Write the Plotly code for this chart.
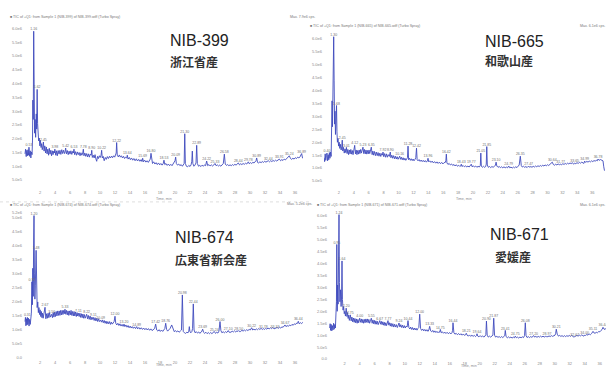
import plotly.graph_objects as go

W, H = 606, 369

# ---------------- NIB-399 (浙江省産) ----------------
nib399_trace = [
    [0.00,1.45],[0.08,1.62],[0.16,1.35],[0.24,1.58],[0.32,1.38],[0.40,1.60],[0.46,1.40],[0.62,1.36],[0.70,1.56],
    [0.78,1.30],[0.86,1.52],[0.94,1.42],[1.00,1.95],[1.05,3.40],[1.10,2.70],[1.22,4.10],[1.28,2.20],[1.35,2.70],
    [1.42,2.05],[1.50,2.90],[1.56,2.35],[1.68,2.55],[1.75,2.10],[1.82,1.92],[1.90,2.02],[1.98,1.74],[2.06,1.94],
    [2.14,1.68],[2.22,1.82],[2.30,1.60],[2.38,1.70],[2.54,1.55],[2.64,1.74],[2.74,1.48],[2.84,1.70],[2.94,1.45],
    [3.04,1.62],[3.14,1.40],[3.24,1.65],[3.34,1.44],[3.44,1.58],[3.54,1.38],[3.64,1.56],[3.74,1.42],[3.84,1.55],
    [3.92,1.48],[4.10,1.40],[4.20,1.56],[4.30,1.38],[4.42,1.57],[4.54,1.44],[4.66,1.58],[4.78,1.43],[4.90,1.60],
    [5.02,1.46],[5.14,1.58],[5.26,1.46],[5.34,1.52],[5.52,1.45],[5.64,1.57],[5.76,1.42],[5.88,1.55],[6.00,1.44],
    [6.12,1.56],[6.24,1.43],[6.36,1.54],[6.45,1.48],[6.62,1.42],[6.74,1.53],[6.86,1.40],[6.98,1.52],[7.10,1.42],
    [7.22,1.50],[7.34,1.38],[7.46,1.49],[7.58,1.40],[7.70,1.48],[7.86,1.38],[7.98,1.48],[8.10,1.36],[8.22,1.46],
    [8.34,1.34],[8.46,1.45],[8.58,1.33],[8.70,1.44],[8.82,1.40],[8.98,1.32],[9.10,1.40],[9.22,1.30],[9.34,1.42],
    [9.46,1.26],[9.56,1.18],[9.68,1.36],[9.80,1.28],[9.92,1.38],[10.04,1.32],[10.14,1.40],[10.30,1.30],[10.42,1.36],
    [10.56,1.20],[10.70,1.32],[10.84,1.25],[10.98,1.35],[11.12,1.28],[11.26,1.36],[11.40,1.30],[11.54,1.37],
    [11.68,1.31],[11.82,1.38],[11.96,1.33],[12.08,1.42],[12.16,1.48],[12.30,1.40],[12.44,1.34],[12.58,1.41],
    [12.72,1.33],[12.86,1.38],[13.00,1.30],[13.14,1.36],[13.28,1.28],[13.42,1.33],[13.56,1.30],[13.74,1.26],
    [13.90,1.32],[14.05,1.24],[14.20,1.30],[14.36,1.22],[14.52,1.28],[14.68,1.20],[14.84,1.27],[15.00,1.19],
    [15.16,1.25],[15.32,1.18],[15.48,1.24],[15.60,1.17],[15.80,1.16],[15.96,1.22],[16.12,1.15],[16.28,1.20],
    [16.44,1.14],[16.58,1.19],[16.70,1.26],[16.88,1.20],[17.00,1.10],[17.16,1.16],[17.32,1.08],[17.48,1.13],
    [17.64,1.06],[17.80,1.12],[17.96,1.05],[18.12,1.10],[18.28,1.04],[18.42,1.09],[18.64,1.06],[18.80,1.10],
    [18.96,1.03],[19.12,1.08],[19.28,1.02],[19.44,1.07],[19.60,1.02],[19.74,1.08],[19.88,1.14],[20.00,1.20],
    [20.18,1.10],[20.34,1.04],[20.50,1.08],[20.66,1.02],[20.82,1.06],[20.98,1.00],[21.12,1.05],[21.22,1.10],
    [21.38,1.10],[21.52,1.00],[21.68,0.98],[21.84,1.03],[22.00,0.99],[22.14,1.05],[22.24,1.18],[22.31,1.55],
    [22.38,1.10],[22.52,1.00],[22.66,1.04],[22.80,1.12],[22.98,1.10],[23.14,1.00],[23.30,1.03],[23.46,0.99],
    [23.62,1.04],[23.78,1.00],[23.94,1.05],[24.08,1.02],[24.36,1.02],[24.52,1.06],[24.68,1.01],[24.84,1.05],
    [25.00,1.01],[25.16,1.04],[25.48,1.02],[25.64,1.05],[25.80,1.01],[25.96,1.04],[26.12,1.00],[26.28,1.05],
    [26.44,1.10],[26.70,1.08],[26.86,1.03],[27.02,1.06],[27.18,1.02],[27.34,1.05],[27.50,1.02],[27.66,1.06],
    [27.82,1.03],[27.98,1.07],[28.14,1.04],[28.28,1.08],[28.60,1.05],[28.76,1.09],[28.92,1.06],[29.08,1.10],
    [29.24,1.07],[29.40,1.11],[29.56,1.08],[29.68,1.12],[29.90,1.09],[30.06,1.13],[30.22,1.10],[30.38,1.14],
    [30.54,1.12],[30.68,1.16],[30.80,1.20],[31.00,1.14],[31.16,1.12],[31.32,1.16],[31.48,1.13],[31.64,1.17],
    [31.80,1.14],[31.96,1.18],[32.12,1.15],[32.28,1.19],[32.60,1.16],[32.76,1.20],[32.92,1.17],[33.08,1.21],
    [33.24,1.18],[33.40,1.22],[33.56,1.19],[33.72,1.23],[34.08,1.20],[34.24,1.24],[34.40,1.21],[34.56,1.26],
    [34.72,1.23],[34.88,1.28],[35.04,1.30],[35.40,1.28],[35.56,1.25],[35.72,1.29],[35.88,1.26],[36.04,1.31],
    [36.20,1.28],[36.36,1.33],[36.52,1.30],[36.66,1.34],[36.78,1.40],[37.00,1.30],[37.20,1.32],
]
nib399_rt = [0.53, 1.16, 1.62, 2.45, 3.98, 5.42, 6.53, 7.78, 8.90, 10.22, 12.22, 13.64, 15.69, 16.80,
             18.53, 20.09, 21.30, 22.89, 24.22, 25.33, 26.58, 28.44, 29.78, 30.89, 32.44, 33.91, 35.24, 36.89]
nib399_height = [1.69, 5.90, 3.79, 1.88, 1.62, 1.66, 1.62, 1.62, 1.58, 1.58, 1.86, 1.40, 1.29, 1.47,
                 1.22, 1.33, 2.18, 1.76, 1.19, 1.10, 1.44, 1.12, 1.16, 1.30, 1.20, 1.26, 1.38, 1.46]
nib399_yticks = [0.5, 1.0, 1.5, 2.0, 2.5, 3.0, 3.5, 4.0, 4.5, 5.0, 5.5, 6.0]

# ---------------- NIB-665 (和歌山産) ----------------
nib665_trace = [
    [0.00,1.40],[0.08,1.25],[0.16,1.55],[0.24,1.30],[0.32,1.48],[0.48,1.28],[0.56,1.52],[0.64,1.32],[0.72,1.60],
    [0.80,1.38],[0.88,1.62],[0.96,1.45],[1.02,2.10],[1.08,3.60],[1.14,2.60],[1.20,4.80],[1.25,3.10],[1.36,4.40],
    [1.42,2.70],[1.48,3.20],[1.54,2.30],[1.60,2.60],[1.74,2.40],[1.80,2.00],[1.88,2.15],[1.96,1.85],[2.04,2.00],
    [2.12,1.76],[2.20,1.92],[2.30,1.70],[2.38,1.82],[2.52,1.66],[2.62,1.80],[2.72,1.58],[2.82,1.74],[2.92,1.60],
    [3.10,1.56],[3.20,1.72],[3.30,1.52],[3.40,1.70],[3.50,1.55],[3.60,1.72],[3.70,1.54],[3.80,1.68],[3.90,1.52],
    [4.00,1.66],[4.22,1.55],[4.32,1.70],[4.42,1.52],[4.52,1.68],[4.62,1.54],[4.72,1.70],[4.82,1.56],[4.92,1.72],
    [5.02,1.58],[5.12,1.70],[5.34,1.56],[5.44,1.72],[5.54,1.55],[5.64,1.70],[5.74,1.54],[5.84,1.68],[5.94,1.55],
    [6.04,1.70],[6.14,1.56],[6.24,1.68],[6.46,1.52],[6.56,1.66],[6.66,1.50],[6.78,1.64],[6.90,1.48],[7.02,1.62],
    [7.14,1.48],[7.26,1.60],[7.38,1.46],[7.50,1.58],[7.62,1.45],[7.74,1.56],[7.84,1.50],[8.02,1.44],[8.14,1.56],
    [8.26,1.42],[8.38,1.55],[8.50,1.42],[8.62,1.52],[8.76,1.45],[8.98,1.40],[9.10,1.50],[9.22,1.38],[9.34,1.48],
    [9.46,1.36],[9.58,1.46],[9.70,1.35],[9.82,1.44],[9.94,1.34],[10.06,1.42],[10.26,1.34],[10.38,1.42],[10.50,1.32],
    [10.62,1.40],[10.74,1.31],[10.86,1.38],[10.98,1.30],[11.10,1.36],[11.20,1.40],[11.36,1.32],[11.48,1.38],
    [11.60,1.30],[11.72,1.36],[11.84,1.29],[11.96,1.35],[12.08,1.28],[12.22,1.34],[12.32,1.40],[12.50,1.32],
    [12.62,1.28],[12.76,1.33],[12.90,1.26],[13.04,1.31],[13.18,1.25],[13.32,1.30],[13.46,1.24],[13.60,1.29],
    [13.74,1.23],[13.88,1.28],[14.06,1.24],[14.20,1.28],[14.36,1.22],[14.52,1.27],[14.68,1.20],[14.84,1.25],
    [15.00,1.19],[15.16,1.24],[15.32,1.18],[15.48,1.23],[15.64,1.17],[15.80,1.22],[15.96,1.16],[16.12,1.21],
    [16.28,1.22],[16.36,1.30],[16.50,1.20],[16.64,1.14],[16.80,1.18],[16.96,1.12],[17.12,1.16],[17.28,1.10],
    [17.44,1.14],[17.60,1.08],[17.76,1.13],[17.92,1.07],[18.08,1.11],[18.24,1.06],[18.36,1.09],[18.52,1.06],
    [18.68,1.10],[18.84,1.05],[19.00,1.09],[19.16,1.04],[19.32,1.08],[19.48,1.04],[19.64,1.08],[19.88,1.05],
    [20.04,1.09],[20.20,1.04],[20.36,1.08],[20.52,1.03],[20.68,1.07],[20.84,1.04],[20.98,1.10],[21.12,1.08],
    [21.26,1.03],[21.40,1.07],[21.56,1.03],[21.70,1.06],[21.78,1.15],[21.92,1.12],[22.06,1.03],[22.22,1.06],
    [22.38,1.02],[22.54,1.06],[22.70,1.03],[22.86,1.07],[23.00,1.10],[23.20,1.08],[23.36,1.03],[23.52,1.06],
    [23.68,1.02],[23.84,1.05],[24.00,1.01],[24.16,1.05],[24.32,1.01],[24.48,1.04],[24.64,1.01],[24.94,1.01],
    [25.10,1.04],[25.26,1.00],[25.42,1.04],[25.58,1.01],[25.74,1.05],[25.90,1.02],[26.06,1.06],[26.20,1.12],
    [26.48,1.10],[26.62,1.04],[26.78,1.07],[26.94,1.03],[27.10,1.06],[27.26,1.02],[27.60,1.03],[27.76,1.06],
    [27.92,1.03],[28.08,1.07],[28.24,1.04],[28.40,1.08],[28.56,1.05],[28.72,1.09],[28.88,1.06],[29.04,1.10],
    [29.20,1.07],[29.36,1.11],[29.52,1.08],[29.68,1.12],[29.84,1.09],[30.00,1.13],[30.16,1.10],[30.32,1.14],
    [30.50,1.16],[30.78,1.14],[30.94,1.11],[31.10,1.15],[31.26,1.12],[31.42,1.16],[31.60,1.13],[31.90,1.13],
    [32.06,1.17],[32.22,1.14],[32.38,1.18],[32.54,1.15],[32.70,1.19],[32.86,1.16],[33.02,1.20],[33.18,1.17],
    [33.34,1.21],[33.50,1.15],[33.80,1.17],[33.96,1.21],[34.12,1.18],[34.28,1.22],[34.44,1.19],[34.60,1.23],
    [34.76,1.20],[34.88,1.18],[35.12,1.22],[35.28,1.26],[35.44,1.23],[35.60,1.27],[35.76,1.24],[35.92,1.28],
    [36.08,1.25],[36.24,1.29],[36.40,1.27],[36.56,1.30],[36.68,1.28],[36.92,1.30],[37.10,1.33],[37.30,1.30],
    [37.45,1.28],[37.55,1.05],[37.65,0.90],
]
nib665_rt = [0.40, 1.30, 1.68, 2.45, 3.01, 4.12, 5.23, 6.35, 7.92, 8.90, 10.16, 11.28, 12.42, 13.96,
             16.42, 18.43, 19.77, 21.05, 21.85, 23.10, 24.79, 26.35, 27.47, 30.64, 31.77, 33.65, 34.99, 36.78]
nib665_height = [1.58, 6.08, 3.42, 2.08, 1.80, 1.88, 1.81, 1.81, 1.62, 1.62, 1.46, 1.85, 1.77, 1.38,
                 1.54, 1.15, 1.15, 1.58, 1.83, 1.23, 1.08, 1.46, 1.08, 1.23, 1.15, 1.19, 1.27, 1.35]
nib665_yticks = [0.5, 1.0, 1.5, 2.0, 2.5, 3.0, 3.5, 4.0, 4.5, 5.0, 5.5, 6.0]

# ---------------- NIB-674 (広東省新会産) ----------------
nib674_trace = [
    [0.00,1.30],[0.06,1.45],[0.12,1.15],[0.20,1.40],[0.26,1.18],[0.38,1.20],[0.46,1.42],[0.54,1.14],[0.62,1.38],
    [0.70,1.20],[0.78,1.44],[0.85,1.60],[0.98,1.90],[1.04,3.20],[1.10,2.20],[1.15,4.10],[1.26,3.00],[1.32,2.10],
    [1.38,2.60],[1.55,2.40],[1.62,1.80],[1.70,2.00],[1.78,1.62],[1.86,1.80],[1.94,1.55],[2.02,1.72],[2.10,1.48],
    [2.18,1.66],[2.26,1.44],[2.34,1.60],[2.42,1.42],[2.52,1.58],[2.78,1.40],[2.88,1.58],[2.98,1.42],[3.08,1.60],
    [3.18,1.44],[3.28,1.62],[3.38,1.46],[3.46,1.50],[3.66,1.44],[3.76,1.62],[3.86,1.46],[3.96,1.64],[4.06,1.48],
    [4.16,1.66],[4.26,1.50],[4.36,1.68],[4.46,1.52],[4.56,1.68],[4.66,1.52],[4.76,1.70],[4.86,1.54],[4.96,1.70],
    [5.06,1.55],[5.16,1.70],[5.24,1.58],[5.44,1.56],[5.54,1.70],[5.64,1.54],[5.74,1.68],[5.84,1.52],[5.94,1.68],
    [6.04,1.54],[6.14,1.70],[6.24,1.52],[6.34,1.66],[6.44,1.50],[6.54,1.66],[6.64,1.50],[6.74,1.64],[6.84,1.48],
    [6.94,1.62],[7.02,1.50],[7.22,1.48],[7.32,1.60],[7.42,1.45],[7.52,1.58],[7.62,1.44],[7.72,1.57],[7.82,1.42],
    [7.92,1.55],[8.02,1.42],[8.12,1.50],[8.34,1.40],[8.44,1.52],[8.56,1.38],[8.68,1.50],[8.80,1.36],[8.92,1.46],
    [9.02,1.38],[9.22,1.34],[9.34,1.44],[9.46,1.32],[9.58,1.42],[9.70,1.30],[9.82,1.40],[9.94,1.30],[10.20,1.28],
    [10.32,1.36],[10.44,1.26],[10.56,1.34],[10.68,1.24],[10.80,1.32],[10.92,1.22],[11.04,1.30],[11.16,1.22],
    [11.28,1.30],[11.40,1.20],[11.52,1.28],[11.64,1.21],[11.76,1.27],[11.88,1.30],[12.10,1.24],[12.24,1.18],
    [12.38,1.24],[12.52,1.16],[12.66,1.22],[12.80,1.14],[12.94,1.20],[13.08,1.13],[13.32,1.12],[13.46,1.18],
    [13.60,1.10],[13.74,1.16],[13.88,1.08],[14.02,1.14],[14.16,1.07],[14.30,1.12],[14.44,1.06],[14.58,1.11],
    [14.74,1.05],[15.02,1.04],[15.18,1.09],[15.34,1.03],[15.50,1.08],[15.66,1.02],[15.82,1.07],[15.98,1.01],
    [16.14,1.06],[16.30,1.00],[16.46,1.05],[16.62,0.99],[16.78,1.04],[16.94,0.98],[17.10,1.03],[17.28,1.05],
    [17.56,1.00],[17.72,0.96],[17.88,1.01],[18.04,0.95],[18.20,1.00],[18.36,0.95],[18.52,0.99],[18.64,1.05],
    [18.88,1.02],[19.02,0.96],[19.18,1.00],[19.36,1.06],[19.56,1.18],[19.74,1.04],[19.90,0.94],[20.06,0.98],
    [20.22,0.93],[20.38,0.97],[20.54,0.92],[20.70,0.96],[20.86,1.00],[21.10,0.95],[21.26,0.90],[21.42,0.88],
    [21.58,0.92],[21.74,0.90],[21.84,0.96],[21.91,1.12],[21.98,0.96],[22.10,0.90],[22.24,0.94],[22.34,1.05],
    [22.54,1.00],[22.68,0.90],[22.84,0.94],[23.00,0.89],[23.16,0.93],[23.32,0.88],[23.48,0.92],[23.58,0.96],
    [23.80,0.92],[23.96,0.88],[24.12,0.92],[24.28,0.87],[24.44,0.91],[24.60,0.87],[24.76,0.91],[24.92,0.87],
    [25.08,0.90],[25.40,0.88],[25.56,0.92],[25.72,0.89],[25.86,0.96],[26.12,0.98],[26.26,0.90],[26.42,0.94],
    [26.58,0.90],[26.74,0.94],[26.90,0.91],[26.98,0.93],[27.22,0.92],[27.46,0.92],[27.62,0.96],[27.78,0.93],
    [27.94,0.97],[28.10,0.93],[28.26,0.97],[28.40,0.95],[28.62,0.94],[28.76,0.95],[28.92,0.99],[29.08,0.96],
    [29.24,1.00],[29.40,0.97],[29.56,1.01],[29.72,0.98],[29.88,1.02],[30.04,1.00],[30.36,1.00],[30.52,1.03],
    [30.68,1.00],[30.84,1.04],[31.00,1.01],[31.16,1.05],[31.32,1.02],[31.48,1.06],[31.64,1.02],[31.92,1.02],
    [32.08,1.06],[32.24,1.03],[32.40,1.07],[32.56,1.04],[32.72,1.08],[32.88,1.05],[33.04,1.09],[33.20,1.04],
    [33.46,1.05],[33.62,1.09],[33.78,1.06],[33.94,1.10],[34.10,1.07],[34.26,1.11],[34.42,1.10],[34.54,1.14],
    [34.80,1.12],[34.96,1.16],[35.12,1.13],[35.28,1.18],[35.44,1.15],[35.60,1.20],[35.76,1.17],[35.92,1.22],
    [36.08,1.20],[36.24,1.25],[36.34,1.24],[36.56,1.22],[36.72,1.26],[36.88,1.23],[37.04,1.27],[37.20,1.25],
]
nib674_rt = [0.31, 0.92, 1.20, 1.48, 2.67, 3.56, 5.33, 7.11, 8.22, 9.11, 10.09, 12.00, 13.20, 14.89,
             17.42, 18.76, 20.98, 22.44, 23.69, 25.24, 26.00, 27.10, 28.50, 30.22, 31.78, 33.33, 34.67, 36.44]
nib674_height = [1.45, 2.72, 5.08, 3.84, 1.81, 1.56, 1.74, 1.60, 1.56, 1.45, 1.35, 1.49, 1.21, 1.12,
                 1.21, 1.24, 2.25, 1.93, 1.03, 0.95, 1.30, 0.98, 0.98, 1.08, 1.05, 1.05, 1.18, 1.31]
nib674_yticks = [0.0, 0.5, 1.0, 1.5, 2.0, 2.5, 3.0, 3.5, 4.0, 4.5, 5.0, 5.2]

# ---------------- NIB-671 (愛媛産) ----------------
nib671_trace = [
    [0.00,1.30],[0.06,1.48],[0.12,1.20],[0.20,1.45],[0.28,1.18],[0.36,1.40],[0.44,1.22],[0.52,1.50],[0.60,1.25],
    [0.68,1.45],[0.76,1.30],[0.84,1.70],[0.90,2.40],[1.00,2.00],[1.06,3.10],[1.12,2.30],[1.18,3.60],[1.30,3.20],
    [1.36,2.40],[1.44,2.90],[1.52,2.20],[1.58,2.60],[1.70,2.50],[1.78,2.05],[1.86,2.20],[1.94,1.90],[2.02,2.00],
    [2.10,1.80],[2.30,1.78],[2.38,1.95],[2.46,1.70],[2.54,1.84],[2.62,1.62],[2.86,1.60],[2.96,1.76],[3.06,1.56],
    [3.16,1.72],[3.26,1.54],[3.36,1.70],[3.46,1.52],[3.56,1.68],[3.66,1.50],[3.76,1.66],[3.86,1.52],[4.12,1.54],
    [4.22,1.68],[4.32,1.52],[4.42,1.66],[4.52,1.50],[4.62,1.66],[4.72,1.52],[4.82,1.68],[4.92,1.54],[5.02,1.68],
    [5.12,1.52],[5.22,1.66],[5.32,1.50],[5.42,1.60],[5.66,1.50],[5.76,1.64],[5.86,1.48],[5.96,1.62],[6.06,1.46],
    [6.16,1.60],[6.26,1.46],[6.36,1.58],[6.46,1.44],[6.56,1.52],[6.78,1.46],[6.88,1.58],[6.98,1.44],[7.08,1.56],
    [7.18,1.42],[7.28,1.54],[7.38,1.40],[7.48,1.52],[7.58,1.40],[7.68,1.50],[7.88,1.42],[7.98,1.52],[8.08,1.38],
    [8.18,1.50],[8.30,1.36],[8.42,1.48],[8.54,1.34],[8.66,1.46],[8.78,1.34],[8.90,1.44],[9.02,1.32],[9.12,1.40],
    [9.36,1.34],[9.48,1.44],[9.60,1.32],[9.72,1.42],[9.84,1.30],[9.96,1.40],[10.08,1.30],[10.20,1.38],[10.32,1.34],
    [10.56,1.32],[10.68,1.26],[10.80,1.34],[10.92,1.24],[11.04,1.32],[11.16,1.22],[11.28,1.30],[11.40,1.22],
    [11.52,1.29],[11.64,1.21],[11.76,1.28],[11.88,1.32],[12.12,1.28],[12.26,1.20],[12.40,1.26],[12.54,1.18],
    [12.68,1.24],[12.82,1.17],[12.96,1.23],[13.10,1.16],[13.22,1.22],[13.46,1.18],[13.60,1.14],[13.74,1.20],
    [13.88,1.12],[14.02,1.18],[14.16,1.11],[14.30,1.16],[14.44,1.10],[14.58,1.15],[14.68,1.12],[14.88,1.10],
    [15.02,1.14],[15.18,1.08],[15.34,1.13],[15.50,1.07],[15.66,1.12],[15.82,1.06],[15.98,1.11],[16.14,1.05],
    [16.30,1.10],[16.38,1.20],[16.56,1.10],[16.70,1.04],[16.86,1.08],[17.02,1.02],[17.18,1.07],[17.34,1.01],
    [17.50,1.06],[17.66,1.00],[17.82,1.05],[17.98,0.99],[18.12,1.02],[18.32,1.00],[18.48,0.96],[18.64,1.01],
    [18.80,0.95],[18.96,1.00],[19.12,0.95],[19.28,0.99],[19.44,0.94],[19.56,0.98],[19.74,0.96],[19.90,0.93],
    [20.06,0.98],[20.22,0.93],[20.38,0.97],[20.54,0.92],[20.70,0.96],[20.82,1.02],[21.00,1.00],[21.14,0.92],
    [21.30,0.96],[21.46,0.92],[21.62,0.95],[21.76,1.00],[21.98,1.00],[22.12,0.92],[22.28,0.95],[22.44,0.91],
    [22.60,0.94],[22.76,0.90],[22.92,0.94],[23.08,0.90],[23.24,0.94],[23.34,0.98],[23.52,0.94],[23.68,0.89],
    [23.84,0.93],[24.00,0.89],[24.16,0.92],[24.32,0.88],[24.48,0.92],[24.62,0.89],[24.88,0.89],[25.04,0.92],
    [25.20,0.88],[25.36,0.92],[25.52,0.89],[25.68,0.93],[25.84,0.90],[25.98,0.98],[26.18,0.98],[26.32,0.90],
    [26.48,0.94],[26.64,0.90],[26.80,0.94],[26.96,0.91],[27.08,0.94],[27.32,0.92],[27.48,0.95],[27.64,0.91],
    [27.80,0.95],[27.96,0.92],[28.12,0.96],[28.28,0.92],[28.44,0.96],[28.60,0.92],[28.76,0.95],[28.88,0.93],
    [29.08,0.93],[29.24,0.97],[29.40,0.94],[29.56,0.98],[29.72,0.95],[29.88,0.99],[30.04,1.00],[30.12,1.06],
    [30.34,1.04],[30.50,0.96],[30.66,0.99],[30.82,0.95],[30.98,0.98],[31.14,0.94],[31.30,0.98],[31.46,0.94],
    [31.62,0.98],[31.78,0.95],[31.94,0.99],[32.10,0.95],[32.26,0.99],[32.42,0.95],[32.56,0.92],[32.80,0.96],
    [32.96,0.99],[33.12,0.96],[33.28,1.00],[33.44,0.97],[33.60,1.01],[33.76,0.98],[33.90,0.96],[34.12,0.99],
    [34.28,1.03],[34.44,1.00],[34.60,1.05],[34.76,1.02],[34.92,1.07],[35.02,1.10],[35.22,1.10],[35.38,1.08],
    [35.54,1.12],[35.70,1.10],[35.86,1.15],[36.02,1.14],[36.18,1.20],[36.32,1.24],[36.56,1.26],[36.72,1.24],
    [36.88,1.30],[37.04,1.28],
]
nib671_rt = [0.95, 1.24, 1.64, 2.20, 2.75, 4.00, 5.55, 6.67, 7.77, 9.24, 10.44, 12.00, 13.33, 14.75, 16.44,
             18.21, 19.64, 20.90, 21.87, 23.41, 24.75, 26.08, 27.20, 28.97, 30.21, 32.67, 34.00, 35.11, 36.44]
nib671_height = [4.80, 6.05, 4.11, 2.13, 1.85, 1.71, 1.71, 1.61, 1.61, 1.51, 1.61, 1.88, 1.37, 1.24, 1.52,
                 1.08, 1.06, 1.59, 1.71, 1.20, 0.96, 1.52, 0.98, 0.96, 1.25, 0.94, 1.00, 1.16, 1.33]
nib671_yticks = [0.0, 0.5, 1.0, 1.5, 2.0, 2.5, 3.0, 3.5, 4.0, 4.5, 5.0, 5.5, 6.0]

time_ticks = [2, 4, 6, 8, 10, 12, 14, 16, 18, 20, 22, 24, 26, 28, 30, 32, 34, 36]

sample_ids = ["NIB-399", "NIB-665", "NIB-674", "NIB-671"]
origins = ["浙江省産", "和歌山産", "広東省新会産", "愛媛産"]
max_cps = ["7.9e6", "6.1e6", "5.2e6", "6.1e6"]

# panel geometry in pixels: plot box, time-axis origin/scale, intensity reference/scale
panels = [
    dict(trace=nib399_trace, rt=nib399_rt, ht=nib399_height, yt=nib399_yticks,
         box=(24, 303, 24, 190), x0=25, xs=7.5, yref=(181, 0.5), ys=27.7, cap=200,
         head=(8, 17), maxpos=(288, 17), title=(168, 41), sub=(168, 62)),
    dict(trace=nib665_trace, rt=nib665_rt, ht=nib665_height, yt=nib665_yticks,
         box=(324, 606, 33, 190), x0=324, xs=7.45, yref=(182, 0.5), ys=26.0, cap=200,
         head=(308, 26), maxpos=(578, 26), title=(483, 41.5), sub=(483, 61)),
    dict(trace=nib674_trace, rt=nib674_rt, ht=nib674_height, yt=nib674_yticks,
         box=(24, 303, 211, 360.5), x0=25, xs=7.5, yref=(360, 0.0), ys=28.2, cap=367,
         head=(8, 206), maxpos=(285, 205), title=(173, 238.5), sub=(173, 261)),
    dict(trace=nib671_trace, rt=nib671_rt, ht=nib671_height, yt=nib671_yticks,
         box=(329, 606, 211, 361.5), x0=329.7, xs=7.5, yref=(361, 0.0), ys=24.0, cap=367.5,
         head=(315, 206), maxpos=(578, 206), title=(488, 236), sub=(493, 258)),
]

LINE = "#3f4bbd"
TICK = "#8a8a8a"
SMALL = "Liberation Sans, Arial, sans-serif"

fig = go.Figure()
layout = dict(width=W, height=H, margin=dict(l=0, r=0, t=0, b=0),
              paper_bgcolor="white", plot_bgcolor="white", showlegend=False)
annotations = []

for i, p in enumerate(panels):
    k = "" if i == 0 else str(i + 1)
    xa, ya = "x" + k, "y" + k
    l, r, t, b = p["box"]
    # merge the trace points with the labelled peak apexes
    pts = sorted([tuple(q) for q in p["trace"]] + list(zip(p["rt"], p["ht"])))
    fig.add_trace(go.Scatter(
        x=[q[0] for q in pts], y=[q[1] for q in pts], mode="lines",
        line=dict(color=LINE, width=0.9), xaxis=xa, yaxis=ya, hoverinfo="skip"))
    fig.add_trace(go.Scatter(
        x=p["rt"], y=p["ht"], mode="text", text=[f"{v:.2f}" for v in p["rt"]],
        textposition="top center", textfont=dict(size=3.5, color="#707070", family=SMALL),
        cliponaxis=False, xaxis=xa, yaxis=ya, hoverinfo="skip"))

    xr = [(l - p["x0"]) / p["xs"], (r - p["x0"]) / p["xs"]]
    py0, v0 = p["yref"]
    yr = [v0 + (py0 - b) / p["ys"], v0 + (py0 - t) / p["ys"]]
    layout["xaxis" + k] = dict(
        domain=[l / W, r / W], range=xr, anchor=ya, showgrid=False, zeroline=False,
        showline=False, ticks="", tickvals=time_ticks, ticktext=[str(v) for v in time_ticks],
        tickfont=dict(size=4, color=TICK, family=SMALL), ticklabelstandoff=0)
    layout["yaxis" + k] = dict(
        domain=[1 - b / H, 1 - t / H], range=yr, anchor=xa, showgrid=False, zeroline=False,
        showline=False, ticks="", tickvals=p["yt"],
        ticktext=["0.0" if v == 0 else f"{v*1e6:.1e}".replace("+0", "").replace("+", "") for v in p["yt"]],
        tickfont=dict(size=4, color=TICK, family=SMALL), ticklabelstandoff=1)

    # "Time, min" axis caption
    annotations.append(dict(x=(l + 140) / W, y=1 - p["cap"] / H, xref="paper", yref="paper",
                            text="Time, min", showarrow=False, xanchor="center", yanchor="middle",
                            font=dict(size=3.6, color=TICK, family=SMALL)))
    # TIC header line
    hx, hy = p["head"]
    annotations.append(dict(x=hx / W, y=1 - hy / H, xref="paper", yref="paper", showarrow=False,
                            xanchor="left", yanchor="middle",
                            text=f"■ TIC of +Q1: from Sample 1 ({sample_ids[i]}) of {sample_ids[i]}.wiff (Turbo Spray)",
                            font=dict(size=3.6, color="#777", family=SMALL)))
    mx, my = p["maxpos"]
    annotations.append(dict(x=mx / W, y=1 - my / H, xref="paper", yref="paper", showarrow=False,
                            xanchor="left", yanchor="middle", text=f"Max. {max_cps[i]} cps.",
                            font=dict(size=3.6, color="#777", family=SMALL)))
    # sample id and origin
    tx, ty = p["title"]
    annotations.append(dict(x=tx / W, y=1 - ty / H, xref="paper", yref="paper", showarrow=False,
                            xanchor="left", yanchor="middle", text=sample_ids[i],
                            font=dict(size=16, color="#222", family="Liberation Sans, Arial")))
    sx, sy = p["sub"]
    annotations.append(dict(x=sx / W, y=1 - sy / H, xref="paper", yref="paper", showarrow=False,
                            xanchor="left", yanchor="middle", text=origins[i],
                            font=dict(size=12, color="#333", family="Noto Sans CJK JP", weight=700)))

layout["annotations"] = annotations
layout["shapes"] = [dict(type="line", xref="paper", yref="paper", x0=0, x1=310 / W,
                         y0=1 - 203 / H, y1=1 - 203 / H,
                         line=dict(color="#c8c8c8", width=0.6, dash="dot"))]
fig.update_layout(**layout)
fig.write_html("out.html")
